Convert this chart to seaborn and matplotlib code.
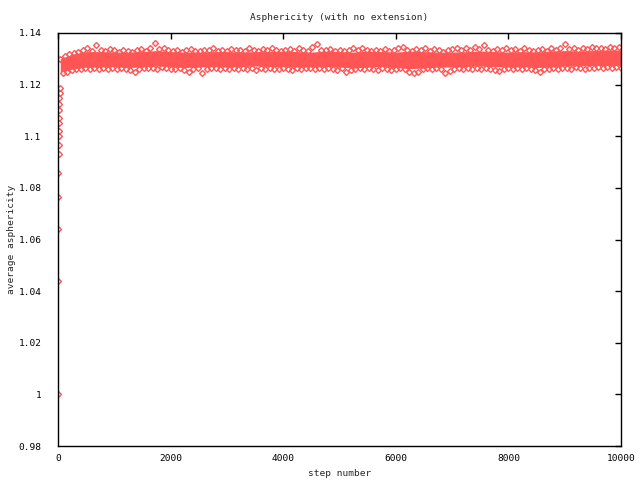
import numpy as np
import pandas as pd
import matplotlib
matplotlib.use("Agg")
import matplotlib.pyplot as plt
import seaborn as sns

# initial relaxation, first few steps
early_steps = [0, 2, 4, 6, 8, 10, 12, 14, 16, 18, 20, 22, 24, 26, 28, 30]
early_values = [1.0000, 1.0438, 1.0639, 1.0763, 1.0856, 1.0930, 1.0966, 1.1002,
                1.1019, 1.1050, 1.1070, 1.1102, 1.1125, 1.1148, 1.1168, 1.1187]

# plateau points along the ragged edges of the band, every 40 steps (40..10000)
plateau_values = [
    1.1300, 1.1245, 1.1312, 1.1250, 1.1318, 1.1256, 1.1322, 1.1260, 1.1328, 1.1262,
    1.1334, 1.1264, 1.1340, 1.1262, 1.1332, 1.1266, 1.1352, 1.1260, 1.1336, 1.1264,
    1.1330, 1.1262, 1.1338, 1.1266, 1.1334, 1.1260, 1.1328, 1.1264, 1.1336, 1.1262,
    1.1332, 1.1258, 1.1328, 1.1250, 1.1334, 1.1262, 1.1338, 1.1266, 1.1330, 1.1264,
    1.1340, 1.1266, 1.1360, 1.1262, 1.1338, 1.1268, 1.1342, 1.1264, 1.1334, 1.1262,
    1.1330, 1.1260, 1.1336, 1.1264, 1.1328, 1.1258, 1.1334, 1.1248, 1.1338, 1.1262,
    1.1332, 1.1264, 1.1330, 1.1246, 1.1336, 1.1262, 1.1334, 1.1266, 1.1340, 1.1264,
    1.1332, 1.1260, 1.1336, 1.1266, 1.1330, 1.1262, 1.1338, 1.1264, 1.1334, 1.1260,
    1.1336, 1.1266, 1.1330, 1.1262, 1.1340, 1.1264, 1.1334, 1.1258, 1.1332, 1.1264,
    1.1338, 1.1262, 1.1334, 1.1266, 1.1342, 1.1262, 1.1336, 1.1260, 1.1330, 1.1266,
    1.1334, 1.1262, 1.1338, 1.1258, 1.1332, 1.1264, 1.1340, 1.1262, 1.1336, 1.1266,
    1.1332, 1.1264, 1.1344, 1.1262, 1.1356, 1.1266, 1.1336, 1.1260, 1.1334, 1.1264,
    1.1338, 1.1262, 1.1330, 1.1258, 1.1336, 1.1264, 1.1332, 1.1250, 1.1334, 1.1256,
    1.1340, 1.1262, 1.1334, 1.1266, 1.1342, 1.1260, 1.1336, 1.1264, 1.1330, 1.1262,
    1.1336, 1.1258, 1.1332, 1.1264, 1.1338, 1.1262, 1.1330, 1.1256, 1.1334, 1.1260,
    1.1342, 1.1264, 1.1346, 1.1260, 1.1336, 1.1250, 1.1332, 1.1244, 1.1338, 1.1248,
    1.1334, 1.1260, 1.1340, 1.1264, 1.1332, 1.1262, 1.1338, 1.1266, 1.1334, 1.1262,
    1.1328, 1.1244, 1.1334, 1.1252, 1.1338, 1.1262, 1.1342, 1.1264, 1.1336, 1.1260,
    1.1340, 1.1264, 1.1334, 1.1262, 1.1344, 1.1266, 1.1338, 1.1260, 1.1352, 1.1264,
    1.1336, 1.1262, 1.1332, 1.1258, 1.1338, 1.1254, 1.1334, 1.1262, 1.1340, 1.1264,
    1.1334, 1.1262, 1.1338, 1.1266, 1.1332, 1.1260, 1.1340, 1.1264, 1.1336, 1.1262,
    1.1330, 1.1256, 1.1334, 1.1248, 1.1338, 1.1262, 1.1332, 1.1260, 1.1340, 1.1264,
    1.1336, 1.1262, 1.1342, 1.1264, 1.1358, 1.1266, 1.1338, 1.1262, 1.1340, 1.1268,
    1.1336, 1.1264, 1.1342, 1.1262, 1.1338, 1.1266, 1.1344, 1.1264, 1.1340, 1.1268,
    1.1342, 1.1266, 1.1338, 1.1268, 1.1346, 1.1264, 1.1340, 1.1270, 1.1344, 1.1266,
]
plateau_steps = list(range(40, 10001, 40))

# solid core of the dense band (where the points overlap completely)
core_steps = [40] + list(range(250, 10001, 250))
core_upper = [
    1.1300, 1.1318, 1.1328, 1.1328, 1.1326, 1.1326, 1.1328, 1.1332, 1.1328, 1.1326,
    1.1326, 1.1328, 1.1328, 1.1326, 1.1328, 1.1328, 1.1330, 1.1328, 1.1326, 1.1330,
    1.1328, 1.1326, 1.1330, 1.1328, 1.1326, 1.1330, 1.1328, 1.1326, 1.1326, 1.1328,
    1.1330, 1.1328, 1.1326, 1.1328, 1.1326, 1.1330, 1.1332, 1.1330, 1.1332, 1.1334,
    1.1334,
]
core_lower = [
    1.1250, 1.1260, 1.1268, 1.1268, 1.1270, 1.1266, 1.1268, 1.1272, 1.1270, 1.1266,
    1.1268, 1.1270, 1.1268, 1.1270, 1.1272, 1.1270, 1.1270, 1.1268, 1.1268, 1.1270,
    1.1268, 1.1264, 1.1268, 1.1270, 1.1266, 1.1262, 1.1264, 1.1268, 1.1268, 1.1270,
    1.1272, 1.1270, 1.1268, 1.1270, 1.1266, 1.1268, 1.1272, 1.1272, 1.1274, 1.1274,
    1.1274,
]

x_ticks = [0, 2000, 4000, 6000, 8000, 10000]
y_ticks = [0.98, 1.0, 1.02, 1.04, 1.06, 1.08, 1.1, 1.12, 1.14]

RED = "#ff5555"

df = pd.DataFrame({
    "step": early_steps + plateau_steps,
    "asph": early_values + plateau_values,
})

sns.set_theme(style="white")
plt.rcParams["font.family"] = ["DejaVu Sans Mono"]

fig = plt.figure(figsize=(6.4, 4.8), dpi=100)
ax = fig.add_axes([58 / 640, 1 - 446 / 480, (621 - 58) / 640, (446 - 33) / 480])

ax.fill_between(core_steps, core_lower, core_upper, color=RED, lw=0)
sns.lineplot(data=df, x="step", y="asph", ax=ax, estimator=None, sort=False,
             linestyle="", marker="D", markersize=3.0,
             markerfacecolor="none", markeredgecolor=RED, markeredgewidth=1.0)

ax.set_xlim(0, 10000)
ax.set_ylim(0.98, 1.14)
ax.set_xticks(x_ticks)
ax.set_yticks(y_ticks)
ax.set_yticklabels([f"{v:g}" for v in y_ticks])
ax.tick_params(direction="in", length=4.5, width=1, top=True, right=True,
               labelsize=6.8, colors="black")
ax.tick_params(axis="y", pad=12)
ax.tick_params(axis="x", pad=6)
for s in ax.spines.values():
    s.set_color("black")
    s.set_linewidth(1)

ax.set_title("Asphericity (with no extension)", fontsize=6.8, pad=9)
ax.set_xlabel("step number", fontsize=6.8, labelpad=4)
ax.set_ylabel("average asphericity", fontsize=6.8, labelpad=2)

fig.savefig("out.png", dpi=100)
